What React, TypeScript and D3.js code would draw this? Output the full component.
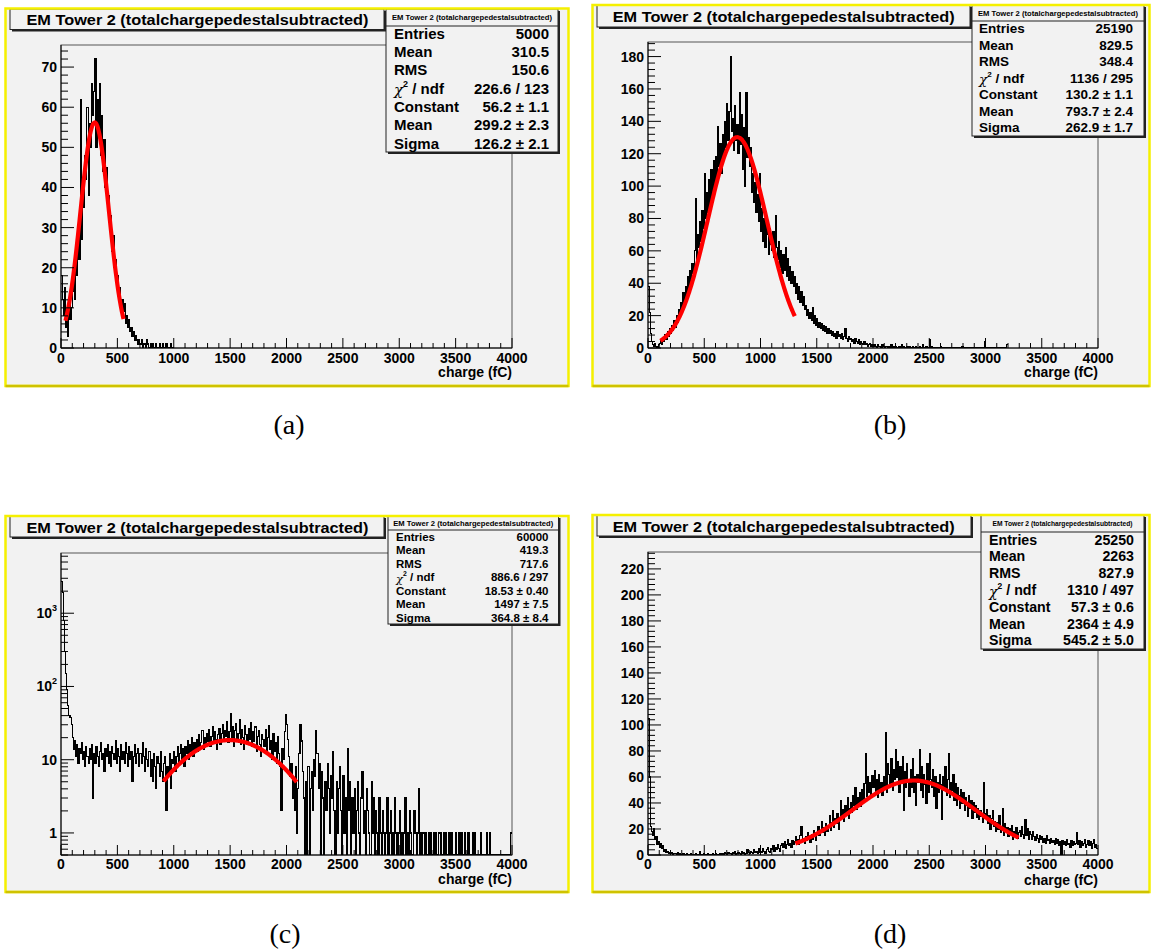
import React from "react";
import * as d3 from "d3";

// ---------------- data ----------------
const binWidth = 10; // fC per bin
const xTickValues = [0, 500, 1000, 1500, 2000, 2500, 3000, 3500, 4000];
const xTitle = "charge (fC)";
const histTitle = "EM Tower 2 (totalchargepedestalsubtracted)";
const statNames = ["Entries", "Mean", "RMS", "χ2 / ndf", "Constant", "Mean", "Sigma"];
const captions = ["(a)", "(b)", "(c)", "(d)"];

const histA = [
  18, 12, 8, 15, 5, 9, 3, 12, 7, 10,
  14, 20, 12, 24, 18, 30, 22, 62, 27, 40,
  35, 48, 42, 60, 38, 56, 50, 66, 58, 64,
  72, 50, 62, 54, 66, 48, 58, 44, 52, 40,
  45, 34, 38, 30, 33, 24, 28, 20, 22, 16,
  18, 13, 15, 10, 12, 9, 11, 6, 8, 5,
  7, 4, 5, 3, 4, 2, 3, 2, 1, 2,
  1, 2, 0, 1, 1, 0, 2, 1, 0, 1,
  0, 1, 0, 0, 1, 0, 0, 1, 0, 0,
  1, 0, 0, 1, 0, 0, 0, 1, 0, 0,
];

const histB = [
  38, 22, 9, 4, 2, 1, 3, 1, 0, 2,
  3, 5, 2, 6, 4, 8, 5, 10, 7, 12,
  9, 14, 11, 17, 13, 20, 16, 24, 19, 28,
  22, 34, 27, 38, 31, 44, 36, 48, 40, 52,
  46, 60, 92, 55, 70, 62, 78, 66, 85, 74,
  108, 80, 96, 84, 104, 88, 110, 96, 116, 100,
  118, 104, 137, 112, 126, 108, 132, 118, 140, 124,
  151, 128, 146, 180, 134, 142, 122, 150, 128, 138,
  120, 158, 126, 144, 110, 136, 100, 158, 118, 130,
  112, 124, 96, 108, 90, 102, 84, 95, 78, 108,
  72, 86, 66, 80, 62, 76, 70, 58, 74, 64,
  60, 72, 56, 82, 62, 55, 66, 50, 60, 46,
  58, 48, 62, 44, 55, 42, 50, 40, 47, 38,
  44, 34, 40, 30, 38, 28, 35, 26, 32, 24,
  26, 20, 24, 18, 22, 17, 25, 15, 20, 14,
  18, 13, 16, 12, 15, 11, 14, 10, 13, 9,
  12, 9, 11, 8, 10, 7, 9, 6, 10, 7,
  8, 6, 9, 5, 7, 12, 6, 4, 7, 5,
  6, 4, 5, 3, 6, 4, 3, 5, 2, 4,
  3, 2, 4, 2, 3, 1, 2, 3, 1, 2,
  1, 2, 1, 0, 2, 1, 1, 0, 2, 1,
  0, 1, 1, 0, 1, 0, 2, 0, 1, 0,
  1, 0, 0, 1, 0, 2, 0, 1, 0, 0,
  1, 0, 1, 0, 0, 1, 0, 0, 1, 0,
  0, 1, 0, 0, 2, 0, 0, 1, 0, 0,
  5, 0, 1, 0, 0, 0, 0, 0, 0, 0,
  1, 0, 0, 0, 0, 0, 0, 0, 0, 0,
  0, 0, 0, 0, 0, 0, 0, 0, 0, 1,
  0, 0, 0, 0, 0, 0, 0, 0, 0, 0,
  0, 0, 0, 0, 0, 0, 0, 0, 0, 4,
  0, 0, 0, 0, 0, 0, 0, 0, 0, 0,
  0, 0, 0, 0, 0, 0, 0, 0, 0, 2,
];

const histC = [
  2700, 1900, 800, 300, 150, 90, 55, 40, 38, 30,
  20, 14, 18, 11, 16, 9, 14, 12, 17, 10,
  13, 8, 15, 11, 9, 14, 10, 16, 3, 12,
  9, 15, 11, 8, 13, 17, 10, 12, 7, 14,
  11, 16, 9, 13, 8, 15, 12, 10, 18, 9,
  14, 11, 7, 16, 10, 13, 9, 17, 12, 8,
  15, 10, 13, 5, 11, 16, 9, 12, 14, 8,
  12, 9, 17, 11, 7, 14, 10, 8, 13, 6,
  10, 5, 12, 8, 4, 11, 9, 6, 13, 7,
  5, 9, 11, 2, 8, 6, 12, 4, 10, 9,
  13, 7, 11, 15, 9, 12, 16, 10, 14, 8,
  15, 12, 18, 10, 16, 13, 20, 11, 17, 14,
  19, 13, 22, 15, 17, 25, 14, 20, 16, 23,
  18, 26, 15, 21, 28, 17, 24, 19, 14, 22,
  27, 16, 23, 30, 18, 25, 21, 33, 17, 24,
  43, 20, 28, 15, 25, 31, 18, 23, 35, 16,
  26, 20, 14, 29, 22, 17, 27, 19, 32, 15,
  24, 18, 28, 13, 21, 25, 16, 11, 22, 19,
  15, 26, 12, 20, 29, 14, 18, 10, 23, 13,
  17, 9, 21, 12, 8, 2, 14, 10, 24, 42,
  30, 19, 11, 6, 9, 3, 5, 2, 8, 1,
  4, 12, 30, 18, 7, 3, 0, 5, 0, 8,
  0, 4, 7, 2, 10, 6, 25, 12, 4, 9,
  0, 7, 3, 0, 5, 2, 9, 4, 1, 6,
  3, 13, 2, 0, 5, 1, 4, 8, 2, 0,
  6, 1, 3, 0, 14, 2, 5, 0, 3, 1,
  4, 0, 2, 5, 1, 0, 3, 7, 1, 2,
  0, 4, 2, 1, 0, 5, 1, 3, 0, 2,
  1, 0, 3, 1, 0, 2, 1, 0, 1, 3,
  0, 1, 2, 0, 1, 0, 3, 1, 0, 1,
  2, 0, 1, 0, 1, 3, 0, 1, 0, 2,
  1, 0, 0, 2, 1, 0, 1, 4, 0, 1,
  0, 1, 0, 1, 0, 0, 1, 0, 1, 0,
  1, 0, 1, 0, 0, 1, 1, 0, 0, 1,
  0, 1, 0, 0, 1, 0, 1, 0, 0, 0,
  1, 0, 0, 1, 0, 1, 0, 0, 1, 0,
  0, 1, 0, 0, 0, 1, 0, 1, 0, 0,
  0, 0, 1, 0, 0, 0, 0, 1, 0, 0,
  1, 0, 0, 0, 0, 0, 0, 0, 0, 0,
  0, 0, 0, 0, 0, 0, 0, 0, 0, 1,
];

const histD = [
  105, 60, 22, 18, 15, 20, 12, 14, 8, 10,
  6, 9, 5, 7, 3, 4, 2, 3, 1, 2,
  1, 2, 0, 1, 1, 0, 2, 0, 1, 0,
  0, 1, 0, 0, 1, 0, 0, 0, 1, 0,
  0, 0, 1, 0, 0, 0, 3, 0, 0, 1,
  0, 0, 0, 1, 0, 0, 0, 1, 0, 0,
  1, 0, 0, 0, 1, 0, 1, 0, 2, 1,
  0, 2, 1, 1, 0, 2, 1, 3, 0, 1,
  2, 1, 0, 3, 1, 2, 0, 1, 4, 2,
  1, 3, 2, 1, 4, 2, 3, 1, 5, 2,
  3, 2, 5, 3, 1, 4, 6, 3, 2, 5,
  4, 7, 3, 6, 4, 8, 5, 3, 7, 9,
  6, 10, 5, 8, 12, 7, 9, 6, 11, 8,
  10, 14, 9, 12, 8, 15, 22, 11, 13, 9,
  14, 11, 17, 13, 10, 16, 12, 19, 14, 11,
  17, 22, 15, 19, 26, 17, 21, 15, 24, 18,
  22, 30, 19, 25, 34, 21, 28, 24, 32, 20,
  27, 42, 30, 35, 26, 38, 31, 44, 28, 36,
  40, 33, 46, 38, 52, 35, 44, 40, 48, 37,
  50, 42, 55, 78, 45, 60, 48, 56, 44, 61,
  52, 65, 47, 58, 44, 62, 50, 56, 46, 60,
  53, 94, 48, 70, 62, 55, 74, 50, 66, 58,
  81, 60, 72, 48, 68, 55, 76, 34, 64, 52,
  70, 58, 45, 66, 52, 74, 48, 60, 38, 62,
  56, 81, 50, 68, 44, 62, 54, 40, 70, 48,
  78, 58, 52, 66, 45, 60, 36, 56, 48, 62,
  54, 27, 60, 50, 68, 46, 58, 78, 44, 56,
  50, 62, 42, 55, 38, 52, 46, 36, 50, 40,
  48, 34, 44, 38, 30, 46, 36, 42, 28, 40,
  33, 38, 29, 36, 27, 34, 30, 25, 56, 32,
  28, 35, 24, 30, 20, 28, 34, 22, 26, 18,
  25, 20, 30, 17, 22, 36, 15, 24, 18, 21,
  14, 20, 16, 23, 12, 18, 15, 21, 13, 17,
  19, 14, 22, 16, 13, 27, 15, 20, 12, 18,
  16, 12, 18, 14, 11, 16, 13, 10, 15, 12,
  14, 10, 13, 9, 15, 11, 12, 9, 13, 10,
  11, 8, 13, 9, 12, 7, 10, 0, 11, 8,
  10, 7, 12, 8, 9, 6, 11, 7, 10, 8,
  9, 17, 8, 11, 6, 10, 7, 9, 12, 6,
  8, 11, 7, 10, 5, 9, 12, 6, 8, 5,
];

const statsA = ["5000", "310.5", "150.6", "226.6 / 123", "56.2 ± 1.1", "299.2 ± 2.3", "126.2 ± 2.1"];
const statsB = ["25190", "829.5", "348.4", "1136 / 295", "130.2 ± 1.1", "793.7 ± 2.4", "262.9 ± 1.7"];
const statsC = ["60000", "419.3", "717.6", "886.6 / 297", "18.53 ± 0.40", "1497 ± 7.5", "364.8 ± 8.4"];
const statsD = ["25250", "2263", "827.9", "1310 / 497", "57.3 ± 0.6", "2364 ± 4.9", "545.2 ± 5.0"];

// Gaussian fit parameters: constant, mean, sigma; and fitted range (fC)
const fitA = [56.2, 299.2, 126.2];
const fitB = [130.2, 793.7, 262.9];
const fitC = [18.53, 1497, 364.8];
const fitD = [57.3, 2364, 545.2];
const fitRangeA = [40, 555];
const fitRangeB = [110, 1305];
const fitRangeC = [910, 2090];
const fitRangeD = [1310, 3295];

const yTicksA = [0, 10, 20, 30, 40, 50, 60, 70];
const yTicksB = [0, 20, 40, 60, 80, 100, 120, 140, 160, 180];
const yTicksC = [1, 10, 100, 1000];
const yTicksD = [0, 20, 40, 60, 80, 100, 120, 140, 160, 180, 200, 220];

// ---------------- layout ----------------
type Layout = {
  border: { x0: number; y0: number; x1: number; y1: number };
  frame: { x0: number; y0: number; x1: number; y1: number };
  yDomain: [number, number];
  yMinorStep: number;
  title: { x0: number; y0: number; x1: number; y1: number; base: number; tx: number; tw: number; fs: number };
  sbox: {
    x0: number; y0: number; x1: number; y1: number;
    hBase: number; hW: number; hFs: number; hLine: number;
    c0: number; step: number; fs: number; lx: number; vx: number;
  };
  cap: { x: number; y: number };
  xLabelDy: number;
  xTitleDy: number;
};

const layouts: Layout[] = [
  {
    border: { x0: 5.5, y0: 8.5, x1: 568.5, y1: 386 },
    frame: { x0: 61, y0: 45, x1: 512, y1: 348 },
    yDomain: [0, 75.5],
    yMinorStep: 2,
    title: { x0: 10, y0: 9, x1: 384, y1: 29.5, base: 25, tx: 26.5, tw: 342, fs: 15 },
    sbox: { x0: 386, y0: 9, x1: 558, y1: 152, hBase: 20, hW: 160, hFs: 7.5, hLine: 26, c0: 33.3, step: 18.3, fs: 15, lx: 394, vx: 549 },
    cap: { x: 289, y: 434 },
    xLabelDy: 15,
    xTitleDy: 29,
  },
  {
    border: { x0: 592.5, y0: 5, x1: 1149.5, y1: 386 },
    frame: { x0: 648, y0: 42, x1: 1098, y1: 348 },
    yDomain: [0, 189],
    yMinorStep: 4,
    title: { x0: 597, y0: 5, x1: 970, y1: 27, base: 21.5, tx: 612.7, tw: 342, fs: 15 },
    sbox: { x0: 972, y0: 5, x1: 1144, y1: 136, hBase: 16, hW: 160, hFs: 7.5, hLine: 21, c0: 28.3, step: 16.5, fs: 13.5, lx: 979, vx: 1133 },
    cap: { x: 890, y: 434 },
    xLabelDy: 15,
    xTitleDy: 29,
  },
  {
    border: { x0: 5.5, y0: 516, x1: 568.5, y1: 892 },
    frame: { x0: 61, y0: 553, x1: 512, y1: 855 },
    yDomain: [0.5, 6640],
    yMinorStep: 0,
    title: { x0: 10, y0: 516, x1: 384, y1: 537, base: 532.5, tx: 26.5, tw: 342, fs: 15 },
    sbox: { x0: 388, y0: 516, x1: 558.5, y1: 624, hBase: 526, hW: 160, hFs: 7.5, hLine: 530, c0: 536.5, step: 13.5, fs: 11.5, lx: 396, vx: 548.5 },
    cap: { x: 285, y: 943 },
    xLabelDy: 14,
    xTitleDy: 29,
  },
  {
    border: { x0: 592.5, y0: 515, x1: 1149.5, y1: 892 },
    frame: { x0: 648, y0: 552, x1: 1098, y1: 855 },
    yDomain: [0, 233],
    yMinorStep: 4,
    title: { x0: 597, y0: 515, x1: 971, y1: 536, base: 531.5, tx: 612.7, tw: 342, fs: 15 },
    sbox: { x0: 981, y0: 515, x1: 1144, y1: 649, hBase: 526, hW: 140, hFs: 6.8, hLine: 532, c0: 539.5, step: 16.8, fs: 14.2, lx: 989, vx: 1134 },
    cap: { x: 890, y: 943 },
    xLabelDy: 14,
    xTitleDy: 30,
  },
];

const BG = "#f2f2f2";
const FONT = "'Liberation Sans', Arial, Helvetica, sans-serif";

type PanelProps = {
  id: number;
  L: Layout;
  hist: number[];
  stats: string[];
  fit: number[];
  fitRange: number[];
  yTicks: number[];
  log: boolean;
  caption: string;
};

function StatName({ name, x, y, fs }: { name: string; x: number; y: number; fs: number }) {
  if (name.startsWith("χ2")) {
    return (
      <text x={x} y={y} fontSize={fs} fontWeight="bold" fontFamily={FONT}>
        <tspan fontFamily="'DejaVu Serif', serif" fontWeight="normal" fontStyle="italic" dy={fs * 0.12}>χ</tspan>
        <tspan fontSize={fs * 0.6} dy={-fs * 0.55}>2</tspan>
        <tspan dy={fs * 0.43}>{" / ndf"}</tspan>
      </text>
    );
  }
  return (
    <text x={x} y={y} fontSize={fs} fontWeight="bold" fontFamily={FONT}>
      {name}
    </text>
  );
}

function Panel({ id, L, hist, stats, fit, fitRange, yTicks, log, caption }: PanelProps) {
  const { frame, border, title, sbox, cap } = L;
  const x = d3.scaleLinear().domain([0, 4000]).range([frame.x0, frame.x1]);
  const y: any = log
    ? d3.scaleLog().domain(L.yDomain).range([frame.y1, frame.y0]).clamp(true)
    : d3.scaleLinear().domain(L.yDomain).range([frame.y1, frame.y0]);

  const pts: [number, number][] = hist.map((v, i) => [i * binWidth, v]);
  pts.push([hist.length * binWidth, hist[hist.length - 1]]);
  const histLine = d3
    .line<[number, number]>()
    .x((d) => x(d[0]))
    .y((d) => (log ? (d[1] > 0 ? y(d[1]) : frame.y1) : y(d[1])))
    .curve(d3.curveStepAfter);

  const [c, mu, sg] = fit;
  const fitXs = d3.range(fitRange[0], fitRange[1], 5).concat([fitRange[1]]);
  const fitLine = d3
    .line<number>()
    .x((v) => x(v))
    .y((v) => y(c * Math.exp(-0.5 * ((v - mu) / sg) ** 2)))
    .curve(d3.curveMonotoneX);

  // x minor ticks every 100 fC
  const xMinor = d3.range(0, 4001, 100).filter((v) => v % 500 !== 0);

  // y minor ticks
  let yMinor: number[] = [];
  if (log) {
    [0.1, 1, 10, 100, 1000].forEach((dec) => {
      for (let k = 2; k <= 9; k++) {
        const v = k * dec;
        if (v >= L.yDomain[0] && v <= L.yDomain[1]) yMinor.push(v);
      }
    });
  } else {
    yMinor = d3.range(0, L.yDomain[1], L.yMinorStep).filter((v) => !yTicks.includes(v));
  }

  const clipId = `clip-${id}`;
  const tickFs = 14;

  return (
    <g>
      <defs>
        <clipPath id={clipId}>
          <rect x={frame.x0} y={frame.y0} width={frame.x1 - frame.x0} height={frame.y1 - frame.y0} />
        </clipPath>
      </defs>
      {/* canvas background */}
      <rect x={border.x0} y={border.y0} width={border.x1 - border.x0} height={border.y1 - border.y0} fill={BG} />
      {/* frame */}
      <rect x={frame.x0} y={frame.y0} width={frame.x1 - frame.x0} height={frame.y1 - frame.y0} fill={BG} stroke="#555" strokeWidth={1} />

      {/* histogram */}
      <g clipPath={`url(#${clipId})`}>
        <path d={histLine(pts) || ""} fill="none" stroke="#000" strokeWidth={1.1} shapeRendering="crispEdges" />
        <path d={fitLine(fitXs) || ""} fill="none" stroke="#ff0000" strokeWidth={4.2} strokeLinejoin="round" />
      </g>

      {/* axes */}
      <line x1={frame.x0} x2={frame.x1} y1={frame.y1} y2={frame.y1} stroke="#000" strokeWidth={1} />
      <line x1={frame.x0} x2={frame.x0} y1={frame.y0} y2={frame.y1} stroke="#000" strokeWidth={1} />
      {xTickValues.map((v) => (
        <g key={`xt${v}`}>
          <line x1={x(v)} x2={x(v)} y1={frame.y1} y2={frame.y1 - 10} stroke="#000" strokeWidth={1} />
          <text x={x(v)} y={frame.y1 + L.xLabelDy} fontSize={tickFs} fontWeight="bold" fontFamily={FONT} textAnchor="middle">
            {v}
          </text>
        </g>
      ))}
      {xMinor.map((v) => (
        <line key={`xm${v}`} x1={x(v)} x2={x(v)} y1={frame.y1} y2={frame.y1 - 5} stroke="#000" strokeWidth={1} />
      ))}
      <text x={frame.x1} y={frame.y1 + L.xTitleDy} fontSize={tickFs} fontWeight="bold" fontFamily={FONT} textAnchor="end">
        {xTitle}
      </text>

      {yTicks.map((v) => (
        <g key={`yt${v}`}>
          <line x1={frame.x0} x2={frame.x0 + 13} y1={y(v)} y2={y(v)} stroke="#000" strokeWidth={1} />
          {log && v >= 100 ? (
            <text x={frame.x0 - 4} y={y(v) + 5} fontSize={tickFs} fontWeight="bold" fontFamily={FONT} textAnchor="end">
              10
              <tspan fontSize={9} dy={-7}>
                {String(Math.round(Math.log10(v)))}
              </tspan>
            </text>
          ) : (
            <text x={frame.x0 - 4} y={y(v) + 5} fontSize={tickFs} fontWeight="bold" fontFamily={FONT} textAnchor="end">
              {v}
            </text>
          )}
        </g>
      ))}
      {yMinor.map((v) => (
        <line key={`ym${v}`} x1={frame.x0} x2={frame.x0 + 7} y1={y(v)} y2={y(v)} stroke="#000" strokeWidth={1} />
      ))}

      {/* title box */}
      <rect x={title.x0 + 2} y={title.y0 + 2} width={title.x1 - title.x0} height={title.y1 - title.y0} fill="#222" />
      <rect x={title.x0} y={title.y0} width={title.x1 - title.x0} height={title.y1 - title.y0} fill={BG} stroke="#222" strokeWidth={1} />
      <text
        x={title.tx}
        y={title.base}
        fontSize={title.fs}
        fontWeight="bold"
        fontFamily={FONT}
        textLength={title.tw}
        lengthAdjust="spacingAndGlyphs"
      >
        {histTitle}
      </text>

      {/* stats box */}
      <rect x={sbox.x0 + 2} y={sbox.y0 + 2} width={sbox.x1 - sbox.x0} height={sbox.y1 - sbox.y0} fill="#222" />
      <rect x={sbox.x0} y={sbox.y0} width={sbox.x1 - sbox.x0} height={sbox.y1 - sbox.y0} fill={BG} stroke="#222" strokeWidth={1} />
      <line x1={sbox.x0} x2={sbox.x1} y1={sbox.hLine} y2={sbox.hLine} stroke="#222" strokeWidth={1} />
      <text
        x={(sbox.x0 + sbox.x1) / 2}
        y={sbox.hBase}
        fontSize={sbox.hFs}
        fontWeight="bold"
        fontFamily={FONT}
        textAnchor="middle"
        textLength={sbox.hW}
        lengthAdjust="spacingAndGlyphs"
      >
        {histTitle}
      </text>
      {statNames.map((n, i) => {
        const cy = sbox.c0 + i * sbox.step + sbox.fs * 0.36;
        return (
          <g key={`s${i}`}>
            <StatName name={n} x={sbox.lx} y={cy} fs={sbox.fs} />
            <text x={sbox.vx} y={cy} fontSize={sbox.fs} fontWeight="bold" fontFamily={FONT} textAnchor="end">
              {stats[i]}
            </text>
          </g>
        );
      })}

      {/* yellow border */}
      <rect
        x={border.x0}
        y={border.y0}
        width={border.x1 - border.x0}
        height={border.y1 - border.y0}
        fill="none"
        stroke="#f5f000"
        strokeWidth={2.5}
      />
      <line x1={border.x0} x2={border.x1} y1={border.y1} y2={border.y1} stroke="#cfc200" strokeWidth={2.5} />

      <text x={cap.x} y={cap.y} fontSize={28} fontFamily="'Liberation Serif', 'Times New Roman', serif" textAnchor="middle">
        {caption}
      </text>
    </g>
  );
}

export default function App() {
  const hists = [histA, histB, histC, histD];
  const statsAll = [statsA, statsB, statsC, statsD];
  const fits = [fitA, fitB, fitC, fitD];
  const ranges = [fitRangeA, fitRangeB, fitRangeC, fitRangeD];
  const ticks = [yTicksA, yTicksB, yTicksC, yTicksD];
  return (
    <svg
      width={1152}
      height={952}
      viewBox="0 0 1152 952"
      style={{ position: "absolute", left: 0, top: 0, background: "#fff" }}
    >
      <rect x={0} y={0} width={1152} height={952} fill="#fff" />
      {layouts.map((L, i) => (
        <Panel
          key={i}
          id={i}
          L={L}
          hist={hists[i]}
          stats={statsAll[i]}
          fit={fits[i]}
          fitRange={ranges[i]}
          yTicks={ticks[i]}
          log={i === 2}
          caption={captions[i]}
        />
      ))}
    </svg>
  );
}
